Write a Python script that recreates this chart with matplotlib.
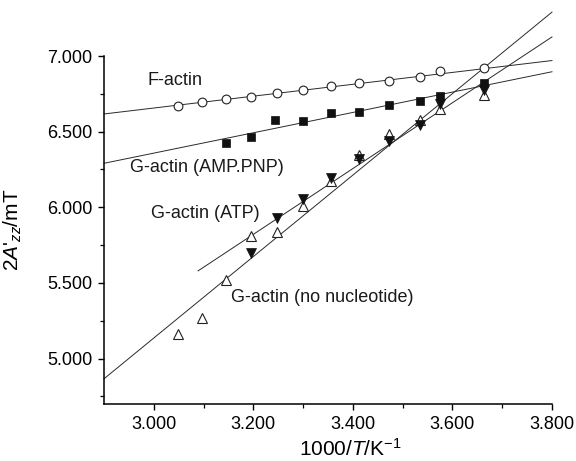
import matplotlib
matplotlib.use("Agg")
import matplotlib.pyplot as plt

plt.rcParams['font.family'] = ['Liberation Sans', 'DejaVu Sans']
plt.rcParams['mathtext.fontset'] = 'custom'
plt.rcParams['mathtext.rm'] = 'Liberation Sans'
plt.rcParams['mathtext.it'] = 'Liberation Sans:italic'

# 1000/T values
x_all = [3.049, 3.096, 3.145, 3.195, 3.247, 3.300, 3.356, 3.413, 3.472, 3.534, 3.575, 3.663]

f_actin_y = [6.672, 6.696, 6.714, 6.728, 6.758, 6.778, 6.805, 6.823, 6.834, 6.864, 6.898, 6.918]

amp_x = [3.145, 3.195, 3.243, 3.300, 3.356, 3.413, 3.472, 3.534, 3.575, 3.663]
amp_y = [6.426, 6.468, 6.575, 6.568, 6.626, 6.632, 6.677, 6.702, 6.733, 6.820]

atp_x = [3.195, 3.247, 3.300, 3.356, 3.413, 3.472, 3.534, 3.575, 3.663]
atp_y = [5.698, 5.930, 6.056, 6.193, 6.322, 6.439, 6.545, 6.685, 6.775]

nonuc_y = [5.166, 5.266, 5.520, 5.813, 5.835, 6.007, 6.175, 6.344, 6.482, 6.579, 6.650, 6.740]

# fitted lines: (x start, x end), (y start, y end)
fit_f_x, fit_f_y = [2.9, 3.8], [6.617, 6.970]
fit_amp_x, fit_amp_y = [2.9, 3.8], [6.291, 6.896]
fit_atp_x, fit_atp_y = [3.089, 3.8], [5.580, 7.126]
fit_nonuc_x, fit_nonuc_y = [2.9, 3.8], [4.867, 7.290]

labels = ["F-actin", "G-actin (AMP.PNP)", "G-actin (ATP)", "G-actin (no nucleotide)"]
label_x = [2.988, 2.952, 2.995, 3.155]
label_y = [6.838, 6.262, 5.959, 5.403]

fig = plt.figure(figsize=(5.76, 4.61), dpi=100)
ax = fig.add_axes([0.1806, 0.1236, 0.7777, 0.7549])

lc = '#2a2a2a'
lw = 0.7
for fx, fy in [(fit_f_x, fit_f_y), (fit_amp_x, fit_amp_y),
               (fit_atp_x, fit_atp_y), (fit_nonuc_x, fit_nonuc_y)]:
    ax.plot(fx, fy, color=lc, lw=lw, clip_on=False, zorder=2)

ax.plot(x_all, f_actin_y, 'o', ms=6.3, mfc='white', mec='#222222', mew=0.8, zorder=3)
ax.plot(amp_x, amp_y, 's', ms=5.8, mfc='#111111', mec='#111111', mew=0.5, zorder=3)
ax.plot(x_all, nonuc_y, '^', ms=7, mfc='white', mec='#222222', mew=0.8, zorder=3)
ax.plot(atp_x, atp_y, 'v', ms=7, mfc='#111111', mec='#111111', mew=0.5, zorder=4)

for t, tx, ty in zip(labels, label_x, label_y):
    ax.text(tx, ty, t, fontsize=13, ha='left', va='center', color='#1a1a1a')

ax.set_xlim(2.9, 3.8)
ax.set_ylim(4.7, 7.0)
ax.set_xticks([3.0, 3.2, 3.4, 3.6, 3.8])
ax.set_xticks([3.1, 3.3, 3.5, 3.7], minor=True)
ax.set_xticklabels(["3.000", "3.200", "3.400", "3.600", "3.800"])
ax.set_yticks([5.0, 5.5, 6.0, 6.5, 7.0])
ax.set_yticks([4.75, 5.25, 5.75, 6.25, 6.75], minor=True)
ax.set_yticklabels(["5.000", "5.500", "6.000", "6.500", "7.000"])

ax.spines['top'].set_visible(False)
ax.spines['right'].set_visible(False)
for s in ['left', 'bottom']:
    ax.spines[s].set_linewidth(1.1)
ax.tick_params(which='major', direction='out', length=4.5, width=1.0, labelsize=13, pad=4)
ax.tick_params(which='minor', direction='out', length=2.8, width=0.9)

ax.set_xlabel(r"1000/$T$/K$^{-1}$", fontsize=15)
ax.set_ylabel(r"2$A$'$_{zz}$/mT", fontsize=15)
ax.xaxis.set_label_coords(0.549, -0.097)
ax.yaxis.set_label_coords(-0.178, 0.5)

fig.savefig("out.png", dpi=100)
